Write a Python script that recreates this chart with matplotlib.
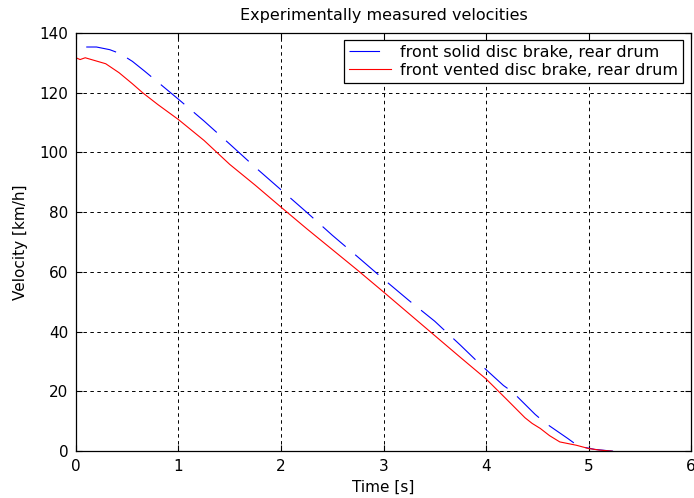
import matplotlib
matplotlib.use("Agg")
import matplotlib.pyplot as plt

plt.rcParams["font.family"] = ["DejaVu Sans"]
plt.rcParams["lines.scale_dashes"] = False

# front solid disc brake, rear drum (blue dashed)
t_solid = [0.10, 0.20, 0.33, 0.43, 0.55, 0.67, 0.80, 1.00, 1.25, 1.50, 1.75,
           2.00, 2.25, 2.50, 2.75, 3.00, 3.25, 3.50, 3.75, 3.94, 4.17, 4.26,
           4.48, 4.58, 4.80, 4.90, 5.06, 5.24]
v_solid = [135.3, 135.3, 134.4, 133.1, 130.5, 127.2, 123.5, 117.8, 110.5, 102.8,
           95.0, 87.5, 80.0, 72.3, 65.0, 57.6, 50.4, 43.5, 35.5, 29.2, 22.0,
           19.8, 12.3, 9.4, 4.2, 1.7, 0.6, 0.0]

# front vented disc brake, rear drum (red solid)
t_vented = [0.00, 0.04, 0.09, 0.16, 0.29, 0.42, 0.55, 0.65, 0.80, 1.00, 1.25,
            1.50, 1.75, 2.00, 2.25, 2.50, 2.75, 3.00, 3.25, 3.50, 3.75, 4.00,
            4.20, 4.38, 4.45, 4.53, 4.62, 4.72, 4.88, 5.00, 5.10, 5.23]
v_vented = [131.7, 131.1, 131.7, 131.0, 129.7, 126.7, 123.0, 120.0, 116.0, 111.0,
            104.0, 96.0, 89.0, 81.7, 74.5, 67.5, 60.5, 53.3, 46.0, 38.7, 31.4,
            24.2, 17.4, 11.2, 9.3, 7.6, 5.2, 3.1, 2.0, 0.9, 0.4, 0.0]

labels = ["front solid disc brake, rear drum", "front vented disc brake, rear drum"]
x_ticks = [0, 1, 2, 3, 4, 5, 6]
y_ticks = [0, 20, 40, 60, 80, 100, 120, 140]

fig = plt.figure(figsize=(6.94, 4.98), dpi=100)
ax = fig.add_axes([0.1095, 0.094, 0.8862, 0.8398])

ax.plot(t_solid, v_solid, color="#0000ff", linewidth=0.8, dashes=(22, 9),
        label=labels[0])
ax.plot(t_vented, v_vented, color="#ff0000", linewidth=0.8, label=labels[1])

ax.set_xlim(0, 6)
ax.set_ylim(0, 140)
ax.set_xticks(x_ticks)
ax.set_yticks(y_ticks)
ax.grid(True, color="black", linestyle=(0, (2.5, 2.5)), linewidth=0.7)
ax.set_axisbelow(True)
ax.tick_params(direction="in", length=4, width=0.8, top=True, right=True,
               labelsize=11, pad=5.5)
for s in ax.spines.values():
    s.set_linewidth(0.9)

ax.set_title("Experimentally measured velocities", fontsize=11.5, pad=9)
ax.set_xlabel("Time [s]", fontsize=11, labelpad=4)
ax.set_ylabel("Velocity [km/h]", fontsize=11, labelpad=8)

leg = ax.legend(loc="upper right", bbox_to_anchor=(0.987, 0.983),
                borderaxespad=0, fontsize=11.5, fancybox=False, framealpha=1,
                edgecolor="black", handlelength=2.6, borderpad=0.3,
                labelspacing=0.2, handletextpad=0.6)
leg.get_frame().set_linewidth(0.9)

fig.savefig("out.png", dpi=100, facecolor="white")
